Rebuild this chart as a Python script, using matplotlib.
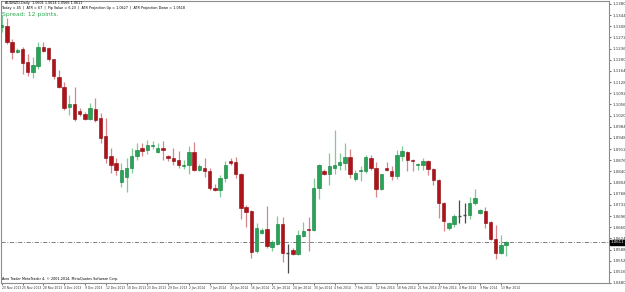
import matplotlib
matplotlib.use("Agg")
import matplotlib.pyplot as plt
from matplotlib.transforms import blended_transform_factory

# ---- data (daily OHLC, AUDNZD) ----
opens = [1.1307, 1.1310, 1.1256, 1.1224, 1.1234, 1.1193, 1.1161, 1.1180, 1.1240, 1.1237,
         1.1202, 1.1145, 1.1113, 1.1046, 1.1056, 1.1034, 1.1024, 1.1008, 1.1040, 1.1011,
         1.0954, 1.0891, 1.0868, 1.0805, 1.0821, 1.0852, 1.0891, 1.0916, 1.0910, 1.0922,
         1.0903, 1.0916, 1.0891, 1.0884, 1.0878, 1.0856, 1.0859, 1.0903, 1.0843, 1.0852,
         1.0840, 1.0786, 1.0779, 1.0817, 1.0875, 1.0871, 1.0833, 1.0725, 1.0713, 1.0582,
         1.0642, 1.0655, 1.0595, 1.0607, 1.0671, 1.0576, 1.0585, 1.0573, 1.0633, 1.0655,
         1.0652, 1.0786, 1.0840, 1.0833, 1.0852, 1.0862, 1.0868, 1.0887, 1.0814, 1.0840,
         1.0840, 1.0884, 1.0852, 1.0782, 1.0852, 1.0840, 1.0824, 1.0891, 1.0903, 1.0878,
         1.0862, 1.0862, 1.0875, 1.0849, 1.0811, 1.0738, 1.0658, 1.0671, 1.0697, 1.0700,
         1.0700, 1.0738, 1.0706, 1.0713, 1.0677, 1.0623, 1.0576, 1.0601]
highs = [1.1345, 1.1336, 1.1266, 1.1237, 1.1240, 1.1218, 1.1209, 1.1256, 1.1256, 1.1240,
         1.1202, 1.1167, 1.1129, 1.1085, 1.1113, 1.1043, 1.1030, 1.1059, 1.1078, 1.1027,
         1.1011, 1.0916, 1.0884, 1.0868, 1.0884, 1.0916, 1.0932, 1.0932, 1.0941, 1.0938,
         1.0932, 1.0938, 1.0894, 1.0916, 1.0906, 1.0878, 1.0922, 1.0935, 1.0865, 1.0884,
         1.0852, 1.0798, 1.0827, 1.0875, 1.0884, 1.0887, 1.0836, 1.0732, 1.0716, 1.0674,
         1.0658, 1.0728, 1.0620, 1.0697, 1.0693, 1.0607, 1.0592, 1.0652, 1.0677, 1.0693,
         1.0817, 1.0865, 1.0849, 1.0900, 1.0973, 1.0900, 1.0932, 1.0913, 1.0846, 1.0856,
         1.0894, 1.0894, 1.0871, 1.0833, 1.0871, 1.0856, 1.0910, 1.0922, 1.0906, 1.0881,
         1.0868, 1.0884, 1.0878, 1.0852, 1.0814, 1.0741, 1.0677, 1.0703, 1.0748, 1.0738,
         1.0757, 1.0782, 1.0719, 1.0725, 1.0681, 1.0668, 1.0636, 1.0614]
lows = [1.1288, 1.1250, 1.1202, 1.1221, 1.1154, 1.1148, 1.1142, 1.1170, 1.1224, 1.1196,
        1.1139, 1.1110, 1.1037, 1.1021, 1.1002, 1.1018, 1.1005, 1.1005, 1.0999, 1.0932,
        1.0868, 1.0836, 1.0827, 1.0789, 1.0773, 1.0836, 1.0878, 1.0891, 1.0897, 1.0913,
        1.0900, 1.0878, 1.0875, 1.0862, 1.0852, 1.0849, 1.0830, 1.0840, 1.0840, 1.0821,
        1.0779, 1.0776, 1.0757, 1.0805, 1.0862, 1.0817, 1.0687, 1.0662, 1.0560, 1.0576,
        1.0639, 1.0592, 1.0582, 1.0601, 1.0547, 1.0512, 1.0569, 1.0569, 1.0627, 1.0582,
        1.0649, 1.0751, 1.0827, 1.0795, 1.0833, 1.0843, 1.0843, 1.0817, 1.0808, 1.0808,
        1.0836, 1.0846, 1.0757, 1.0779, 1.0840, 1.0811, 1.0814, 1.0875, 1.0840, 1.0840,
        1.0843, 1.0843, 1.0827, 1.0795, 1.0690, 1.0649, 1.0652, 1.0662, 1.0674, 1.0674,
        1.0687, 1.0732, 1.0703, 1.0658, 1.0620, 1.0557, 1.0573, 1.0566]
closes = [1.1313, 1.1256, 1.1224, 1.1231, 1.1189, 1.1161, 1.1183, 1.1240, 1.1228, 1.1202,
          1.1148, 1.1113, 1.1043, 1.1056, 1.1008, 1.1024, 1.1008, 1.1043, 1.1005, 1.0948,
          1.0884, 1.0859, 1.0846, 1.0846, 1.0852, 1.0891, 1.0910, 1.0906, 1.0925, 1.0925,
          1.0916, 1.0910, 1.0884, 1.0875, 1.0859, 1.0862, 1.0903, 1.0843, 1.0856, 1.0840,
          1.0786, 1.0779, 1.0817, 1.0859, 1.0868, 1.0830, 1.0722, 1.0709, 1.0579, 1.0658,
          1.0652, 1.0598, 1.0611, 1.0671, 1.0576, 1.0576, 1.0573, 1.0636, 1.0649, 1.0652,
          1.0786, 1.0862, 1.0830, 1.0856, 1.0862, 1.0871, 1.0887, 1.0830, 1.0836, 1.0843,
          1.0887, 1.0852, 1.0782, 1.0830, 1.0843, 1.0824, 1.0894, 1.0906, 1.0878, 1.0875,
          1.0865, 1.0875, 1.0849, 1.0811, 1.0738, 1.0681, 1.0674, 1.0697, 1.0697, 1.0700,
          1.0738, 1.0754, 1.0716, 1.0674, 1.0623, 1.0576, 1.0604, 1.0611]

date_labels = ["20 Nov 2013", "25 Nov 2013", "28 Nov 2013", "4 Dec 2013", "9 Dec 2013",
               "12 Dec 2013", "18 Dec 2013", "23 Dec 2013", "29 Dec 2013", "2 Jan 2014",
               "7 Jan 2014", "10 Jan 2014", "16 Jan 2014", "21 Jan 2014", "24 Jan 2014",
               "30 Jan 2014", "4 Feb 2014", "7 Feb 2014", "12 Feb 2014", "18 Feb 2014",
               "21 Feb 2014", "27 Feb 2014", "4 Mar 2014", "9 Mar 2014", "13 Mar 2014"]
label_every = 4

price_ticks = [round(1.1380 - 0.0036 * k, 4) for k in range(26)]

header1 = "AUDNZD,Daily  1.0601 1.0614 1.0566 1.0611"
header2 = ("Today = 45  |  ATR = 67  |  Pip Value = 6.23  |  "
           "ATR Projection Up = 1.0627  |  ATR Projection Down = 1.0518")
spread_text = "Spread: 12 points."
footer = "Avro Trader MetaTrader 4, \u00a9 2001-2014, MetaQuotes Software Corp."

# ---- figure ----
W, H = 625, 292
fig = plt.figure(figsize=(W / 100, H / 100), dpi=100)
fig.patch.set_facecolor("white")
left_px, right_px, top_px, bot_px = 1, 609, 1, 283
ax = fig.add_axes([left_px / W, 1 - bot_px / H, (right_px - left_px) / W, (bot_px - top_px) / H])
ax.set_facecolor("white")

px_per_bar = 5.2
x0 = 1.7
ax.set_xlim((left_px - x0) / px_per_bar, (right_px - x0) / px_per_bar)
ppx = 0.0036 / 11.5
ax.set_ylim(1.1380 - (bot_px - 4) * ppx, 1.1380 + (4 - top_px) * ppx)

RED, RED_EDGE, RED_WICK = "#b01219", "#860a10", "#d9868b"
GRN, GRN_EDGE, GRN_WICK = "#27a457", "#137a3a", "#7fcb95"
DOJI = "#4a4a4a"
bw = 0.66
for i, (o, h, l, c) in enumerate(zip(opens, highs, lows, closes)):
    if c > o:
        body, edge, wick = GRN, GRN_EDGE, GRN_WICK
    elif c < o:
        body, edge, wick = RED, RED_EDGE, RED_WICK
    else:
        body, edge, wick = DOJI, DOJI, DOJI
    ax.vlines(i, l, h, color=wick, lw=0.9, zorder=2)
    lo, hi = min(o, c), max(o, c)
    if hi - lo < 0.00025:
        ax.hlines((o + c) / 2, i - bw / 2, i + bw / 2, color=body, lw=1.0, zorder=3)
    else:
        ax.bar(i, hi - lo, bottom=lo, width=bw, color=body, edgecolor=edge,
               linewidth=0.4, zorder=3)

# bid line
last = closes[-1]
ax.axhline(last, color="#6a6a6a", lw=0.6, ls=(0, (5, 2, 1, 2)), zorder=1)

# axes styling
for s in ["left", "top", "bottom", "right"]:
    ax.spines[s].set_color("#8c8c8c")
    ax.spines[s].set_linewidth(0.8)
ax.yaxis.tick_right()
ax.set_yticks(price_ticks)
ax.set_yticklabels([f"{v:.4f}" for v in price_ticks])
ax.tick_params(axis="y", labelsize=2.8, length=1.5, width=0.5, pad=0.8,
               colors="#333333", direction="out")
xt = list(range(0, len(opens), label_every))[:len(date_labels)]
ax.set_xticks(xt)
ax.set_xticklabels(date_labels[:len(xt)], ha="left")
ax.tick_params(axis="x", labelsize=2.2, length=1.5, width=0.5, pad=0.8,
               colors="#333333", direction="out")

# price box
tr = blended_transform_factory(ax.transAxes, ax.transData)
ax.text(1.003, last, f"{last:.4f}", transform=tr, fontsize=2.8, color="white",
        va="center", ha="left",
        bbox=dict(boxstyle="square,pad=0.15", fc="black", ec="black"), zorder=5)

# header texts
fig.text(5 / W, 1 - 3 / H, header1, fontsize=2.4, color="black", va="center", ha="left")
fig.text(2 / W, 1 - 8 / H, header2, fontsize=2.4, color="black", va="center", ha="left")
fig.text(2.5 / W, 1 - 14.5 / H, spread_text, fontsize=4.4, color="#2aa84c", va="center", ha="left")
fig.text(2.5 / W, 1 - 279 / H, footer, fontsize=2.4, color="black", va="center", ha="left")

fig.savefig("out.png", dpi=100, facecolor="white")
